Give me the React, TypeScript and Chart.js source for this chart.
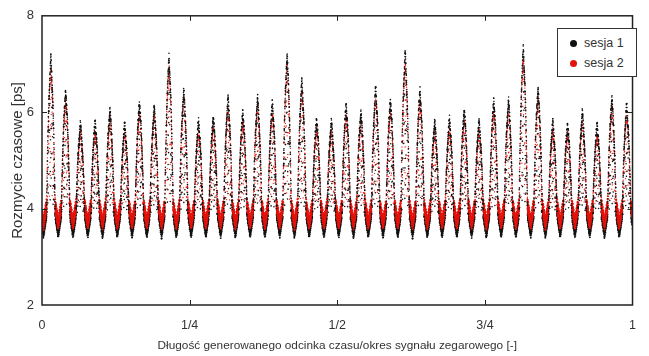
import React, { useEffect, useRef } from 'react';
import { Chart, registerables } from 'chart.js';
Chart.register(...registerables);

// ---- data ----
const xTickValues = [0, 0.25, 0.5, 0.75, 1];
const xTickLabels = ['0', '1/4', '1/2', '3/4', '1'];
const yTickValues = [2, 4, 6, 8];
const seriesNames = ['sesja 1', 'sesja 2'];
const seriesColors = ['#111111', '#e3120b'];
const periods = 40; // clock periods across the x range
const peakPhase = 0.6; // peak position inside each period
// top of each of the 40 peaks (ps)
const peaks1 = [7.15, 6.45, 5.75, 5.8, 6.05, 5.75, 6.2, 6.1, 7.15, 6.45, 5.8, 5.9, 6.3, 6.0, 6.3, 6.2, 7.2, 6.65, 5.85, 5.8,
  6.15, 6.0, 6.5, 6.25, 7.25, 6.45, 5.8, 5.85, 6.05, 5.8, 6.25, 6.25, 7.35, 6.5, 5.8, 5.75, 6.0, 5.75, 6.3, 6.15];
const peaks2 = [6.95, 6.25, 5.6, 5.6, 5.85, 5.6, 6.0, 5.95, 6.95, 6.3, 5.6, 5.7, 6.1, 5.8, 6.1, 6.0, 7.0, 6.45, 5.65, 5.6,
  5.95, 5.8, 6.3, 6.05, 7.05, 6.25, 5.6, 5.65, 5.85, 5.6, 6.05, 6.05, 7.15, 6.3, 5.6, 5.55, 5.8, 5.55, 6.1, 5.95];
// valley: upper level, lowest point of the dip, scatter (ps)
const valleyTops = [3.92, 4.08];
const valleyBottoms = [3.5, 3.68];
const spreads = [0.1, 0.1];
const scatterPattern = [0, 0.62, -0.41, 0.93, -0.78, 0.27, -0.12, 0.71, -0.55, 0.44, -0.95, 0.09, 0.51, -0.3, 0.85, -0.66, 0.18];

const SAMPLES = 260;
const HALF_WIDTH = 0.29; // half width of a peak, in periods

type Pt = { x: number; y: number };

function buildSeries(peaks: number[], vTop: number, vBot: number, spread: number, shift: number) {
  const peak: Pt[] = [];
  const valley: Pt[] = [];
  const P = 1 / periods;
  for (let k = -1; k < periods; k++) {
    const c = (k + peakPhase) * P;
    const h = peaks[Math.max(0, k)];
    for (let j = 0; j < SAMPLES; j++) {
      const u = -0.5 + (j + 0.5) / SAMPLES;
      const x = c + u * P;
      if (x < 0 || x > 1) continue;
      const a = Math.abs(u);
      const n = scatterPattern[(j * 5 + (k + 1) * 3 + shift) % scatterPattern.length];
      if (a < HALF_WIDTH) {
        const r = a / HALF_WIDTH;
        const g = r < 0.35 ? 1 - 0.6 * r : (1 - r * r) * (0.79 / (1 - 0.1225));
        const frac = j % 3 === 0 ? 0.55 + 0.45 * n : 1;
        const y = vTop + (h - vTop) * g * frac + n * spread;
        peak.push({ x, y });
      } else {
        const t = (a - HALF_WIDTH) / (0.5 - HALF_WIDTH);
        const y = vTop - (vTop - vBot) * t + n * spread * 1.3;
        valley.push({ x, y });
      }
    }
  }
  return { peak, valley };
}

const FONT = '"Liberation Sans", Arial, sans-serif';

const framePlugin = {
  id: 'frame',
  afterDatasetsDraw(chart: any) {
    const { ctx, chartArea: a, scales } = chart;
    const xs = scales.x, ys = scales.y;
    ctx.save();
    ctx.strokeStyle = '#222';
    ctx.lineWidth = 1.5;
    ctx.strokeRect(a.left, a.top, a.right - a.left, a.bottom - a.top);
    ctx.lineWidth = 1;
    ctx.beginPath();
    for (const v of xTickValues.slice(1, -1)) {
      const px = Math.round(xs.getPixelForValue(v)) + 0.5;
      ctx.moveTo(px, a.top); ctx.lineTo(px, a.top + 5);
      ctx.moveTo(px, a.bottom); ctx.lineTo(px, a.bottom - 5);
    }
    for (const v of yTickValues.slice(1, -1)) {
      const py = Math.round(ys.getPixelForValue(v)) + 0.5;
      ctx.moveTo(a.left, py); ctx.lineTo(a.left + 5, py);
      ctx.moveTo(a.right, py); ctx.lineTo(a.right - 5, py);
    }
    ctx.stroke();
    ctx.restore();
  },
};

export default function App() {
  const ref = useRef<HTMLCanvasElement>(null);
  useEffect(() => {
    const s1 = buildSeries(peaks1, valleyTops[0], valleyBottoms[0], spreads[0], 0);
    const s2 = buildSeries(peaks2, valleyTops[1], valleyBottoms[1], spreads[1], 7);
    const chart = new Chart(ref.current!, {
      type: 'scatter',
      data: {
        datasets: [
          { label: seriesNames[0], data: s1.peak, backgroundColor: seriesColors[0], pointRadius: 0.8, pointBorderWidth: 0 },
          { label: seriesNames[1], data: s2.peak, backgroundColor: seriesColors[1], pointRadius: 0.65, pointBorderWidth: 0 },
          { label: seriesNames[1], data: s2.valley, backgroundColor: seriesColors[1], pointRadius: 1.05, pointBorderWidth: 0 },
          { label: seriesNames[0], data: s1.valley, backgroundColor: seriesColors[0], pointRadius: 0.95, pointBorderWidth: 0 },
        ],
      },
      options: {
        animation: false,
        responsive: true,
        maintainAspectRatio: false,
        parsing: false,
        normalized: true,
        events: [],
        layout: { padding: { top: 13, right: 7, left: 0, bottom: 0 } },
        plugins: { legend: { display: false }, tooltip: { enabled: false } },
        scales: {
          x: {
            type: 'linear', min: 0, max: 1,
            grid: { display: false, drawTicks: false },
            border: { display: false },
            afterBuildTicks: (s: any) => { s.ticks = xTickValues.map((v) => ({ value: v })); },
            afterFit: (s: any) => { s.height = 51; },
            ticks: {
              padding: 13, color: '#333', font: { family: FONT, size: 12.5 }, maxRotation: 0,
              callback: (v: any) => { const i = xTickValues.indexOf(Number(v)); return i >= 0 ? xTickLabels[i] : ''; },
            },
            title: {
              display: true, text: 'Długość generowanego odcinka czasu/okres sygnału zegarowego [-]',
              color: '#333', font: { family: FONT, size: 11.8 }, padding: { top: 0, bottom: 3 },
            },
          },
          y: {
            type: 'linear', min: 2, max: 8,
            grid: { display: false, drawTicks: false },
            border: { display: false },
            afterBuildTicks: (s: any) => { s.ticks = yTickValues.map((v) => ({ value: v })); },
            afterFit: (s: any) => { s.width = 42; },
            ticks: { padding: 8, color: '#333', font: { family: FONT, size: 13 } },
            title: {
              display: true, text: 'Rozmycie czasowe [ps]',
              color: '#333', font: { family: FONT, size: 15 }, padding: { top: 9, bottom: 0 },
            },
          },
        },
      },
      plugins: [framePlugin],
    });
    return () => chart.destroy();
  }, []);

  const dot = (c: string) => ({ display: 'inline-block', width: 7, height: 7, borderRadius: '50%', background: c, marginRight: 7 });
  return (
    <div style={{ position: 'absolute', left: 0, top: 0, width: 649, height: 356, background: '#fff' }}>
      <canvas ref={ref} />
      <div style={{
        position: 'absolute', left: 557, top: 28, width: 80, height: 49, border: '1.5px solid #333', background: '#fff',
        fontFamily: FONT, fontSize: 12.5, color: '#333', lineHeight: '20px', padding: '4px 0 0 12px', boxSizing: 'border-box',
      }}>
        {seriesNames.map((n, i) => (
          <div key={n} style={{ display: 'flex', alignItems: 'center', height: 20 }}>
            <span style={dot(seriesColors[i])} />{n}
          </div>
        ))}
      </div>
    </div>
  );
}
